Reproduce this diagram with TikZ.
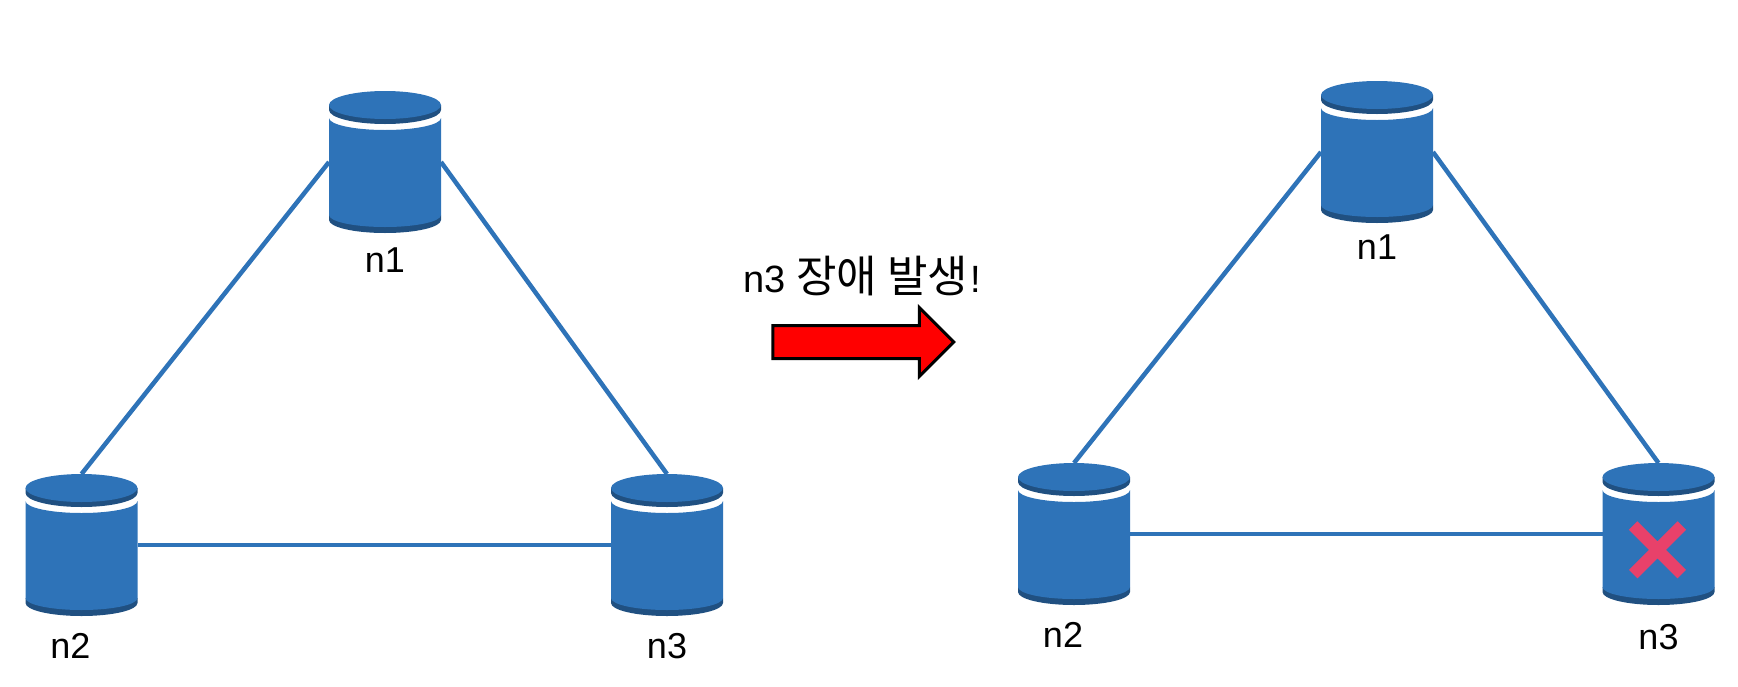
\documentclass[tikz,border=0pt]{standalone}
\usepackage{fontspec}
\setmainfont{Liberation Sans}
\newfontfamily\cjk{Noto Sans CJK KR}
\usepackage{xcolor}
\usetikzlibrary{shapes.arrows, shapes.misc, positioning}
\definecolor{dbblue}{HTML}{2E73B8}
\definecolor{dbdark}{HTML}{205081}
\definecolor{failred}{HTML}{E8416A}

\begin{document}
\begin{tikzpicture}[
                x=1pt, y=-1pt,
                db/.style={rectangle, inner sep=0pt, outer sep=0pt, minimum width=112pt, minimum height=142pt,
                    path picture={
                        \fill[dbdark] (-56pt,-53pt) -- (-56pt,-58pt) arc[start angle=180, end angle=360, x radius=56pt, y radius=13pt] -- (56pt,-53pt) -- cycle;
                        \fill[dbblue] (-56pt,44pt) arc[start angle=180, end angle=360, x radius=56pt, y radius=12pt] -- (56pt,-53pt) arc[start angle=360, end angle=180, x radius=56pt, y radius=12pt] -- cycle;
                        \fill[dbdark] (-56pt,57pt) -- (-56pt,52pt) arc[start angle=180, end angle=360, x radius=56pt, y radius=14pt] -- (56pt,57pt) -- cycle;
                        \fill[dbblue] (0pt,57pt) ellipse[x radius=56pt, y radius=14pt];
                    }},
                dblabel/.style={inner sep=0pt, font=\fontsize{36}{36}\selectfont},
                link/.style={draw=dbblue, line width=4.5pt}
            ]
                \useasboundingbox (0,0) rectangle (1738,686);

                % Before failure
                \node[db] (n1) at (385,162) {};
                \node[db, below left=241pt and 191.5pt of n1] (n2) {};
                \node[db, right=473.5pt of n2] (n3) {};
                \node[dblabel, below=15pt of n1] (n1label) {n1};
                \node[dblabel, below=17pt of n2, xshift=-11pt] (n2label) {n2};
                \node[dblabel, below=17pt of n3] (n3label) {n3};

                \path[link] (n1.west) -- (n2.north);
                \path[link] (n1.east) -- (n3.north);
                \path[link] (n2.east) -- (n3.west);

                % Failure arrow
                \node[single arrow, draw=black, fill=red, line width=3pt, inner sep=0pt, inner ysep=15pt, outer sep=0pt,
                    minimum height=181pt, minimum width=66pt, single arrow head extend=18pt,
                    single arrow head indent=0pt] (failarrow) at (855,342) {};
                \node[font=\fontsize{38}{38}\selectfont, inner sep=0pt, above=29pt of failarrow, xshift=7pt] (failtext) {n3 {\fontsize{44}{44}\selectfont\cjk 장애 발생}\hspace{2pt}!};

                % After failure
                \node[db] (n1b) at (1377,152) {};
                \node[db, below left=240pt and 191pt of n1b] (n2b) {};
                \node[db, right=472.5pt of n2b] (n3b) {};
                \node[dblabel, below=12pt of n1b] (n1blabel) {n1};
                \node[dblabel, below=17pt of n2b, xshift=-11pt] (n2blabel) {n2};
                \node[dblabel, below=19pt of n3b] (n3blabel) {n3};
                \node[cross out, draw=failred, line width=12pt, inner sep=0pt, outer sep=0pt, minimum size=48.6pt,
                    below=-79.5pt of n3b, xshift=-1pt] (n3bfail) {};

                \path[link] (n1b.west) -- (n2b.north);
                \path[link] (n1b.east) -- (n3b.north);
                \path[link] (n2b.east) -- (n3b.west);
            \end{tikzpicture}
\end{document}
